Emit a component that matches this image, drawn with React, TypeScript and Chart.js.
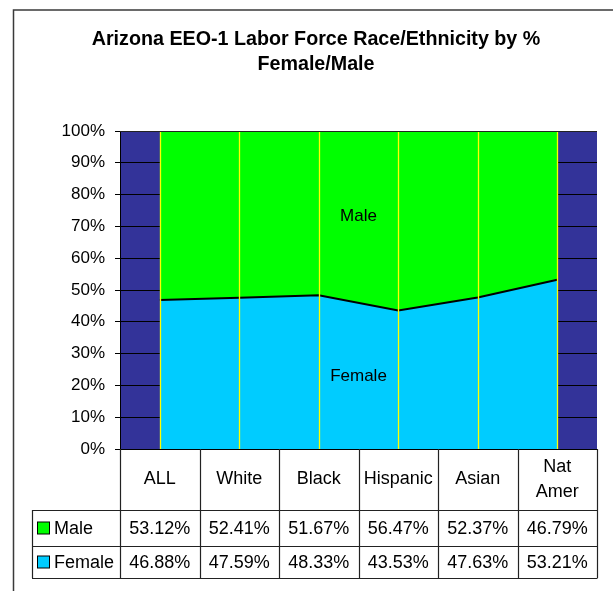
import { useEffect, useRef } from 'react';
import { Chart, registerables } from 'chart.js';

Chart.register(...registerables);

const titleLines = ['Arizona EEO-1 Labor Force Race/Ethnicity by %', 'Female/Male'];
const categories = ['ALL', 'White', 'Black', 'Hispanic', 'Asian', 'Nat Amer'];
const headerLines = [['ALL'], ['White'], ['Black'], ['Hispanic'], ['Asian'], ['Nat', 'Amer']];
const femaleValues = [46.88, 47.59, 48.33, 43.53, 47.63, 53.21];
const maleValues = [53.12, 52.41, 51.67, 56.47, 52.37, 46.79];
const seriesNames = ['Male', 'Female'];
const yMin = 0;
const yMax = 100;
const yStep = 10;

const FONT = '"Liberation Sans", Arial, sans-serif';
const NAVY = '#333399';
const GREEN = '#00FF00';
const CYAN = '#00CCFF';
const YELLOW = '#FFFF00';

const decorPlugin = {
  id: 'decor',
  beforeDraw(chart: any) {
    const { ctx, chartArea: ca, width, height } = chart;
    ctx.save();
    ctx.fillStyle = '#ffffff';
    ctx.fillRect(0, 0, width, height);
    ctx.strokeStyle = '#3a3a3a';
    ctx.lineWidth = 1.5;
    ctx.strokeRect(13.5, 10, width + 20, height + 20);
    ctx.fillStyle = NAVY;
    ctx.fillRect(ca.left, ca.top, ca.right - ca.left, ca.bottom - ca.top);
    ctx.restore();
  },
  afterDatasetsDraw(chart: any) {
    const { ctx, chartArea: ca } = chart;
    const xs = chart.scales.x;
    const ys = chart.scales.y;
    ctx.save();
    ctx.strokeStyle = YELLOW;
    ctx.lineWidth = 1.3;
    categories.forEach((_, i) => {
      const x = Math.round(xs.getPixelForValue(i)) + 0.5;
      ctx.beginPath();
      ctx.moveTo(x, ca.top + 1);
      ctx.lineTo(x, ca.bottom);
      ctx.stroke();
    });
    ctx.strokeStyle = '#222';
    ctx.lineWidth = 1;
    ctx.beginPath();
    ctx.moveTo(ca.left, Math.round(ca.top) + 0.5);
    ctx.lineTo(ca.right, Math.round(ca.top) + 0.5);
    ctx.stroke();
    ctx.fillStyle = '#000';
    ctx.font = `17px ${FONT}`;
    ctx.textAlign = 'center';
    ctx.textBaseline = 'middle';
    const cx = (ca.left + ca.right) / 2;
    ctx.fillText('Male', cx, ys.getPixelForValue(73.3));
    ctx.fillText('Female', cx, ys.getPixelForValue(23));
    ctx.restore();
  },
  afterDraw(chart: any) {
    const { ctx, chartArea: ca } = chart;
    const xs = chart.scales.x;
    ctx.save();
    ctx.fillStyle = '#000';
    ctx.font = `bold 19.7px ${FONT}`;
    ctx.textAlign = 'center';
    ctx.textBaseline = 'alphabetic';
    ctx.fillText(titleLines[0], 316, 45);
    ctx.fillText(titleLines[1], 316, 70);

    const top = ca.bottom;
    const rowH = 510;
    const rowM = 546;
    const rowF = 578;
    const legLeft = 32;
    const bounds: number[] = [ca.left];
    for (let i = 0; i < categories.length - 1; i++) {
      bounds.push((xs.getPixelForValue(i) + xs.getPixelForValue(i + 1)) / 2);
    }
    bounds.push(ca.right);

    ctx.strokeStyle = '#222';
    ctx.lineWidth = 1.2;
    bounds.forEach((b) => {
      const x = Math.round(b) + 0.5;
      ctx.beginPath();
      ctx.moveTo(x, top);
      ctx.lineTo(x, rowF);
      ctx.stroke();
    });
    ctx.beginPath();
    ctx.moveTo(legLeft + 0.5, rowH);
    ctx.lineTo(legLeft + 0.5, rowF);
    ctx.stroke();
    [rowH, rowM, rowF].forEach((y) => {
      ctx.beginPath();
      ctx.moveTo(legLeft, y + 0.5);
      ctx.lineTo(ca.right + 0.5, y + 0.5);
      ctx.stroke();
    });

    ctx.font = `18px ${FONT}`;
    ctx.fillStyle = '#000';
    ctx.textAlign = 'center';
    ctx.textBaseline = 'alphabetic';
    headerLines.forEach((lines, i) => {
      const x = xs.getPixelForValue(i);
      if (lines.length === 1) {
        ctx.fillText(lines[0], x, 484);
      } else {
        ctx.fillText(lines[0], x, 472);
        ctx.fillText(lines[1], x, 497);
      }
    });
    const rows = [
      { name: seriesNames[0], vals: maleValues, color: GREEN, base: 534 },
      { name: seriesNames[1], vals: femaleValues, color: CYAN, base: 568 },
    ];
    rows.forEach((r) => {
      r.vals.forEach((v, i) => {
        ctx.textAlign = 'center';
        ctx.fillText(v.toFixed(2) + '%', xs.getPixelForValue(i), r.base);
      });
      ctx.fillStyle = r.color;
      ctx.fillRect(37.5, r.base - 12, 12, 12);
      ctx.strokeStyle = '#000';
      ctx.lineWidth = 1;
      ctx.strokeRect(37.5, r.base - 12, 12, 12);
      ctx.fillStyle = '#000';
      ctx.textAlign = 'left';
      ctx.fillText(r.name, 54, r.base);
    });
    ctx.restore();
  },
};

export default function App() {
  const ref = useRef<HTMLCanvasElement | null>(null);
  useEffect(() => {
    if (!ref.current) return;
    const chart = new Chart(ref.current, {
      type: 'line',
      data: {
        labels: categories,
        datasets: [
          {
            label: seriesNames[1],
            data: femaleValues,
            backgroundColor: CYAN,
            borderColor: '#000',
            borderWidth: 2,
            fill: 'origin',
            pointRadius: 0,
            tension: 0,
            order: 1,
          },
          {
            label: seriesNames[0],
            data: maleValues,
            backgroundColor: GREEN,
            borderColor: 'rgba(0,0,0,0)',
            borderWidth: 0,
            fill: '-1',
            pointRadius: 0,
            tension: 0,
            order: 2,
          },
        ],
      },
      options: {
        animation: false,
        responsive: true,
        maintainAspectRatio: false,
        layout: { padding: { left: 0, top: 131, right: 16, bottom: 0 } },
        plugins: {
          legend: { display: false },
          title: { display: false },
          tooltip: { enabled: false },
        },
        scales: {
          x: {
            type: 'category',
            offset: true,
            ticks: { display: false },
            grid: { display: false, drawTicks: false },
            border: { display: true, color: '#000', width: 1 },
            afterFit: (s: any) => {
              s.height = 142;
            },
          },
          y: {
            stacked: true,
            min: yMin,
            max: yMax,
            ticks: {
              stepSize: yStep,
              callback: (v: any) => v + '%',
              color: '#000',
              font: { family: FONT, size: 17 },
              padding: 10,
            },
            grid: { color: '#000', lineWidth: 1, tickLength: 5, tickColor: '#000' },
            border: { display: true, color: '#000', width: 1 },
            afterFit: (s: any) => {
              s.width = 120;
            },
          },
        },
      },
      plugins: [decorPlugin],
    });
    return () => chart.destroy();
  }, []);
  return (
    <div style={{ position: 'fixed', left: 0, top: 0, width: 613, height: 591 }}>
      <canvas ref={ref} />
    </div>
  );
}
